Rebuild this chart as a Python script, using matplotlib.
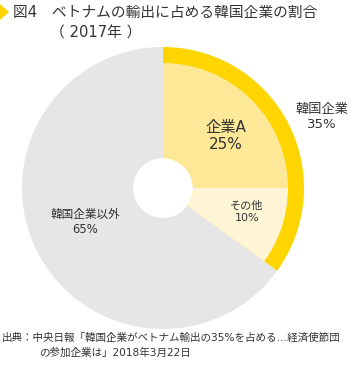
import matplotlib.pyplot as plt
from matplotlib.patches import Polygon

# 数字・英字はDejaVu、和文はNoto CJKで描く
plt.rcParams['font.family'] = ['DejaVu Sans', 'Noto Sans CJK JP']

# 韓国企業の内訳と全体の割合 (%)
labels = ['企業A', 'その他', '韓国企業以外']
shares = [25, 10, 65]
korea_label = '韓国企業'
korea_share = shares[0] + shares[1]

title = '図4\u3000ベトナムの輸出に占める韓国企業の割合'
subtitle = '（ 2017年 ）'
source1 = '出典：中央日報「韓国企業がベトナム輸出の35%を占める…経済使節団'
source2 = 'の参加企業は」2018年3月22日'

W, H = 350, 365
fig = plt.figure(figsize=(W / 100, H / 100), dpi=100)
ax = fig.add_axes([0, 0, 1, 1])
ax.set_xlim(0, W)
ax.set_ylim(0, H)
ax.set_aspect('equal')
ax.axis('off')

cx, cy = 163, H - 188
r_out, r_in, r_hole = 141, 125, 30
txt = '#333333'

# 外側: 韓国企業(黄色の帯)とそれ以外(グレー)
ax.pie([korea_share, 100 - korea_share], center=(cx, cy), radius=r_out,
       colors=['#FFD500', '#E6E6E6'], startangle=90, counterclock=False,
       wedgeprops=dict(width=r_out - r_hole, linewidth=0))
# 内側: 企業A・その他
ax.pie(shares, center=(cx, cy), radius=r_in,
       colors=['#FDE897', '#FEF4D6', 'none'], startangle=90, counterclock=False,
       wedgeprops=dict(width=r_in - r_hole, linewidth=0))
ax.set_xlim(0, W)
ax.set_ylim(0, H)

ax.text(226, H - 136, f'{labels[0]}\n{shares[0]}%', ha='center', va='center',
        fontsize=11, color=txt, linespacing=1.1)
ax.text(247, H - 212, f'{labels[1]}\n{shares[1]}%', ha='center', va='center',
        fontsize=8, color=txt, linespacing=1.2)
ax.text(85, H - 222, f'{labels[2]}\n{shares[2]}%', ha='center', va='center',
        fontsize=8.4, color=txt, linespacing=1.2)
ax.text(322, H - 117, f'{korea_label}\n{korea_share}%', ha='center', va='center',
        fontsize=9.5, color=txt, linespacing=1.25)

# 見出し
ax.add_patch(Polygon([[0, H - 4], [9, H - 12], [0, H - 20]], closed=True,
                     facecolor='#FFD500', edgecolor='none'))
ax.text(13, H - 12, title, ha='left', va='center', fontsize=10.6, color=txt)
ax.text(50, H - 33, subtitle, ha='left', va='center', fontsize=10.6, color=txt)

ax.text(2, H - 338, source1, ha='left', va='center', fontsize=7.6, color=txt)
ax.text(39, H - 353, source2, ha='left', va='center', fontsize=7.6, color=txt)

fig.savefig('out.png', dpi=100)
